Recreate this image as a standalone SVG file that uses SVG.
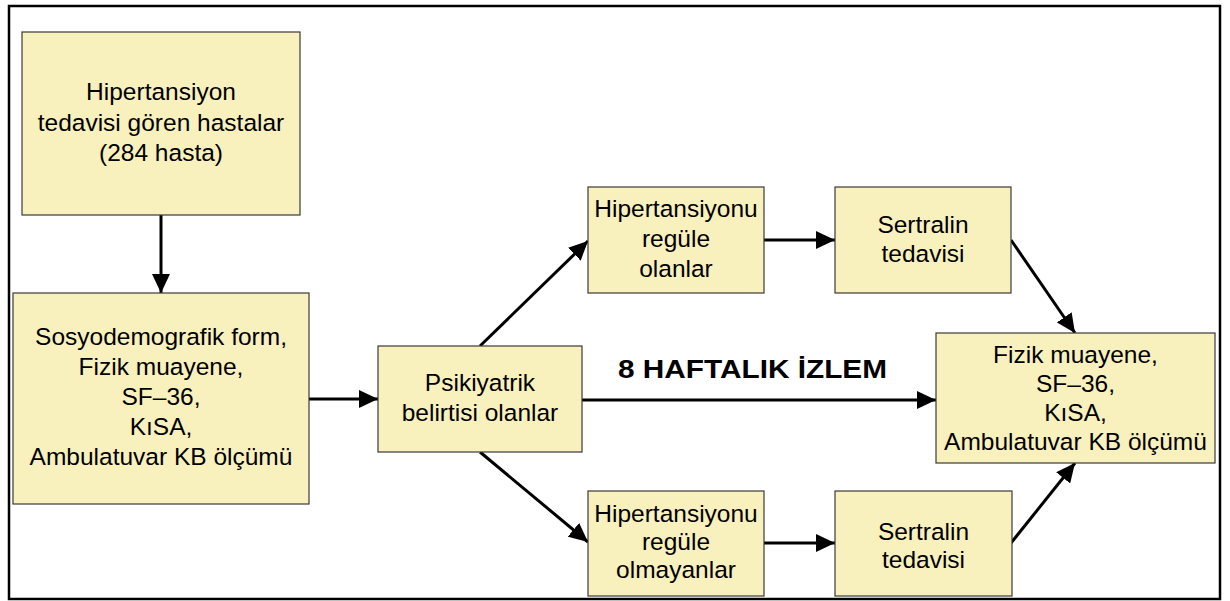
<svg xmlns="http://www.w3.org/2000/svg" width="1230" height="601" viewBox="0 0 1230 601">
<style>
.box{fill:#F9F1BD;stroke:#3a3a3a;stroke-width:1.2}
.t{font-family:"Liberation Sans",Arial,sans-serif;font-size:24.5px;fill:#000;text-anchor:middle}
.lbl{font-family:"Liberation Sans",Arial,sans-serif;font-size:26px;font-weight:bold;fill:#000}
.c{stroke:#000;stroke-width:3;fill:none;marker-end:url(#ah)}
</style>
<defs>
<marker id="ah" markerUnits="userSpaceOnUse" markerWidth="19" markerHeight="18" refX="19" refY="9" orient="auto">
<path d="M0,0 L19,9 L0,18 z" fill="#000"/>
</marker>
</defs>
<rect x="0" y="0" width="1230" height="601" fill="#fff"/>
<rect x="9" y="6" width="1211" height="593" fill="none" stroke="#000" stroke-width="2.5"/>
<g id="connectors">
<line class="c" x1="161" y1="215" x2="161" y2="293"/>
<line class="c" x1="309" y1="399" x2="378" y2="399"/>
<line class="c" x1="480" y1="346" x2="588" y2="241"/>
<line class="c" x1="480" y1="452" x2="588" y2="542"/>
<line class="c" x1="582" y1="400" x2="936" y2="400"/>
<line class="c" x1="764" y1="240" x2="835" y2="240"/>
<line class="c" x1="764" y1="543" x2="835" y2="543"/>
<line class="c" x1="1011" y1="240" x2="1075" y2="333"/>
<line class="c" x1="1011" y1="543" x2="1075" y2="463"/>
</g>
<text class="lbl" x="618" y="378" textLength="269" lengthAdjust="spacingAndGlyphs">8 HAFTALIK İZLEM</text>
<g id="n1">
<rect class="box" x="22" y="32" width="278" height="183"/>
<text class="t" x="161" y="100">Hipertansiyon</text>
<text class="t" x="161" y="131">tedavisi gören hastalar</text>
<text class="t" x="161" y="161">(284 hasta)</text>
</g>
<g id="n2">
<rect class="box" x="13" y="293" width="296" height="211"/>
<text class="t" x="161" y="345">Sosyodemografik form,</text>
<text class="t" x="161" y="375">Fizik muayene,</text>
<text class="t" x="161" y="405">SF–36,</text>
<text class="t" x="161" y="435">KıSA,</text>
<text class="t" x="161" y="465">Ambulatuvar KB ölçümü</text>
</g>
<g id="n3">
<rect class="box" x="378" y="346" width="204" height="106"/>
<text class="t" x="480" y="391">Psikiyatrik</text>
<text class="t" x="480" y="421">belirtisi olanlar</text>
</g>
<g id="n4">
<rect class="box" x="588" y="187" width="176" height="106"/>
<text class="t" x="676" y="217">Hipertansiyonu</text>
<text class="t" x="676" y="247">regüle</text>
<text class="t" x="676" y="277">olanlar</text>
</g>
<g id="n5">
<rect class="box" x="835" y="187" width="176" height="106"/>
<text class="t" x="923" y="233">Sertralin</text>
<text class="t" x="923" y="262">tedavisi</text>
</g>
<g id="n6">
<rect class="box" x="588" y="491" width="176" height="105"/>
<text class="t" x="676" y="522">Hipertansiyonu</text>
<text class="t" x="676" y="550">regüle</text>
<text class="t" x="676" y="578">olmayanlar</text>
</g>
<g id="n7">
<rect class="box" x="835" y="491" width="177" height="105"/>
<text class="t" x="923.5" y="540">Sertralin</text>
<text class="t" x="923.5" y="568">tedavisi</text>
</g>
<g id="n8">
<rect class="box" x="936" y="333" width="279" height="130"/>
<text class="t" x="1075.5" y="363">Fizik muayene,</text>
<text class="t" x="1075.5" y="392">SF–36,</text>
<text class="t" x="1075.5" y="421">KıSA,</text>
<text class="t" x="1075.5" y="450">Ambulatuvar KB ölçümü</text>
</g>
</svg>
